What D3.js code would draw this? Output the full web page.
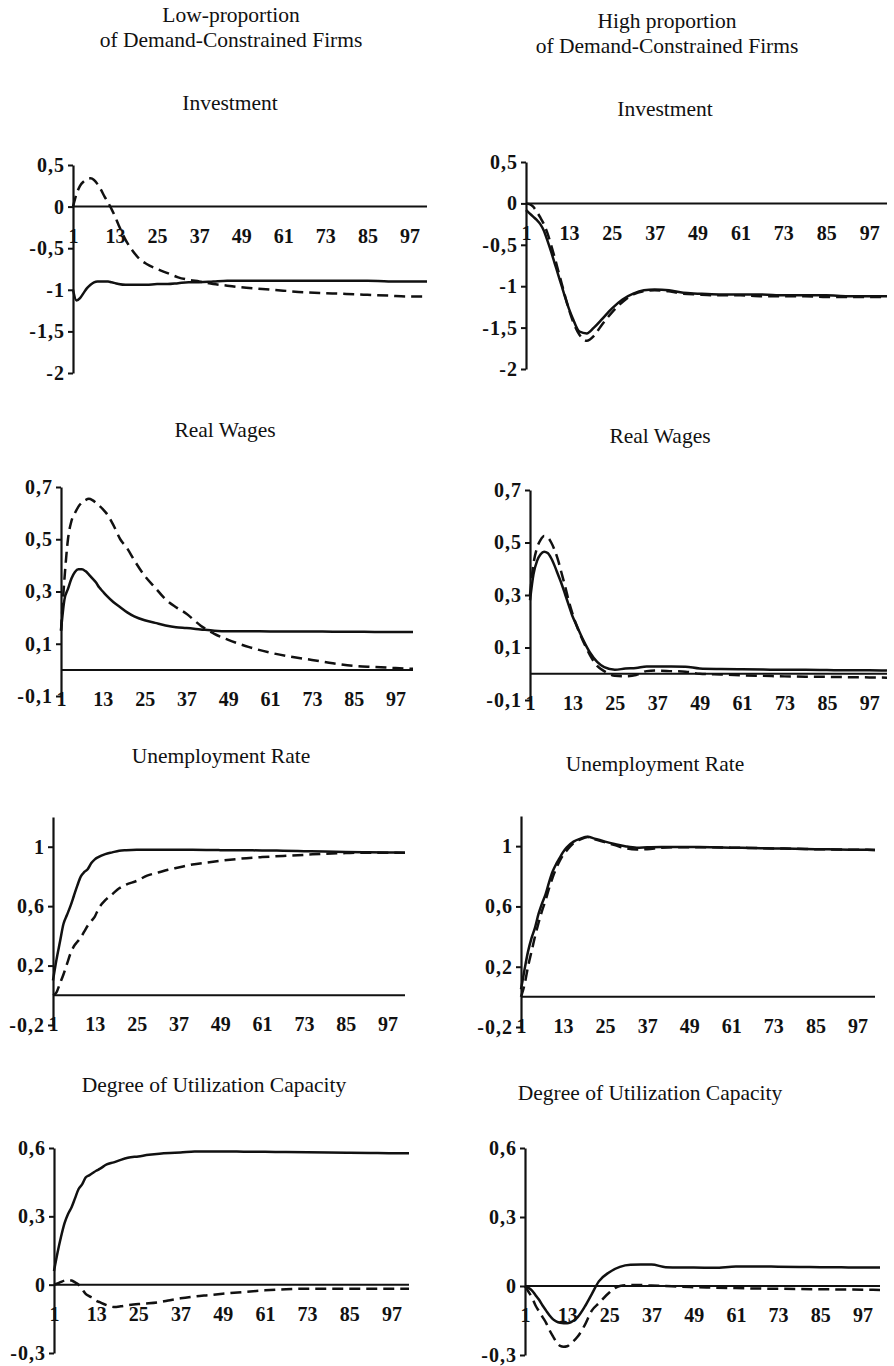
<!DOCTYPE html>
<html>
<head>
<meta charset="utf-8">
<script src="https://cdn.jsdelivr.net/npm/d3@7"></script>
<style>
  body { margin: 0; background: #fff; }
  svg { display: block; }
  .tick text { font-family: "Liberation Serif", serif; font-weight: bold; font-size: 20px; fill: #111; }
  .yaxis .tick text { letter-spacing: 1px; }
  .title { font-family: "Liberation Serif", serif; font-size: 21.5px; fill: #111; }
</style>
</head>
<body>
<div id="chart"></div>
<script>
const periods = [1,2,3,4,5,6,7,8,9,10,11,12,13,14,16,18,20,22,25,28,31,34,37,41,45,49,55,61,67,73,79,85,91,97,102];
const xTicks = [1, 13, 25, 37, 49, 61, 73, 85, 97];

const columnTitles = [
  ["Low-proportion", "of Demand-Constrained Firms"],
  ["High proportion", "of Demand-Constrained Firms"]
];
const variables = ["Investment", "Real Wages", "Unemployment Rate", "Degree of Utilization Capacity"];

const yTicksInvestment = [0.5, 0, -0.5, -1, -1.5, -2];
const yTicksWages = [0.7, 0.5, 0.3, 0.1, -0.1];
const yTicksUnemployment = [1, 0.6, 0.2, -0.2];
const yTicksUtilization = [0.6, 0.3, 0, -0.3];

// low proportion (left column)
const invLowSolid = [-1.0,-1.13,-1.1,-1.04,-0.98,-0.94,-0.91,-0.9,-0.9,-0.9,-0.9,-0.91,-0.92,-0.93,-0.94,-0.94,-0.94,-0.94,-0.93,-0.93,-0.92,-0.91,-0.91,-0.9,-0.89,-0.89,-0.89,-0.89,-0.89,-0.89,-0.89,-0.89,-0.9,-0.9,-0.9];
const invLowDashed = [0,0.15,0.25,0.3,0.33,0.34,0.32,0.27,0.2,0.12,0.05,-0.03,-0.12,-0.22,-0.4,-0.53,-0.63,-0.69,-0.75,-0.8,-0.85,-0.88,-0.9,-0.93,-0.95,-0.97,-0.99,-1.01,-1.03,-1.04,-1.05,-1.06,-1.07,-1.08,-1.08];
const wageLowSolid = [0.15,0.27,0.31,0.35,0.375,0.385,0.385,0.378,0.365,0.35,0.335,0.315,0.3,0.285,0.26,0.24,0.22,0.205,0.19,0.18,0.17,0.163,0.16,0.155,0.15,0.148,0.148,0.147,0.147,0.147,0.146,0.146,0.145,0.145,0.145];
const wageLowDashed = [0.15,0.35,0.5,0.57,0.6,0.625,0.64,0.65,0.655,0.65,0.64,0.628,0.615,0.6,0.555,0.5,0.465,0.42,0.36,0.315,0.27,0.24,0.215,0.17,0.138,0.115,0.087,0.066,0.05,0.038,0.025,0.015,0.011,0.007,0.004];
const unempLowSolid = [0.1,0.24,0.36,0.48,0.54,0.6,0.67,0.74,0.8,0.83,0.85,0.89,0.915,0.93,0.95,0.962,0.973,0.977,0.98,0.98,0.98,0.98,0.98,0.979,0.978,0.977,0.976,0.975,0.973,0.97,0.968,0.965,0.963,0.961,0.96];
const unempLowDashed = [0,0.02,0.08,0.14,0.21,0.28,0.33,0.36,0.39,0.43,0.47,0.5,0.53,0.58,0.64,0.68,0.72,0.745,0.77,0.805,0.825,0.845,0.86,0.88,0.893,0.905,0.92,0.93,0.938,0.945,0.953,0.957,0.96,0.96,0.96];
const utilLowSolid = [0.06,0.14,0.21,0.27,0.31,0.34,0.38,0.42,0.44,0.47,0.48,0.49,0.5,0.508,0.528,0.537,0.548,0.557,0.563,0.57,0.575,0.578,0.58,0.585,0.585,0.585,0.584,0.583,0.582,0.581,0.58,0.579,0.578,0.577,0.577];
const utilLowDashed = [0,0.005,0.012,0.018,0.02,0.018,0.01,0,-0.02,-0.04,-0.05,-0.058,-0.07,-0.077,-0.09,-0.098,-0.095,-0.09,-0.085,-0.082,-0.077,-0.068,-0.06,-0.052,-0.046,-0.04,-0.032,-0.025,-0.02,-0.018,-0.018,-0.018,-0.018,-0.018,-0.018];

// high proportion (right column)
const invHighSolid = [-0.08,-0.12,-0.16,-0.2,-0.25,-0.33,-0.45,-0.58,-0.72,-0.86,-1.0,-1.14,-1.27,-1.38,-1.55,-1.57,-1.5,-1.41,-1.27,-1.16,-1.09,-1.05,-1.04,-1.05,-1.08,-1.09,-1.1,-1.1,-1.1,-1.11,-1.11,-1.11,-1.12,-1.12,-1.12];
const invHighDashed = [0,-0.01,-0.04,-0.1,-0.17,-0.25,-0.36,-0.5,-0.65,-0.81,-0.97,-1.13,-1.28,-1.41,-1.59,-1.66,-1.6,-1.48,-1.32,-1.19,-1.1,-1.06,-1.05,-1.06,-1.09,-1.1,-1.11,-1.11,-1.12,-1.12,-1.12,-1.13,-1.13,-1.13,-1.13];
const wageHighSolid = [0.28,0.38,0.43,0.455,0.465,0.46,0.44,0.41,0.375,0.34,0.3,0.26,0.22,0.19,0.13,0.08,0.045,0.025,0.015,0.02,0.022,0.028,0.028,0.028,0.027,0.02,0.018,0.017,0.016,0.015,0.015,0.014,0.013,0.013,0.012];
const wageHighDashed = [0.3,0.42,0.48,0.51,0.525,0.52,0.5,0.47,0.43,0.38,0.33,0.275,0.23,0.19,0.125,0.07,0.03,0.01,-0.008,-0.01,-0.005,0.01,0.012,0.01,0.008,0,-0.003,-0.006,-0.008,-0.01,-0.011,-0.012,-0.013,-0.014,-0.015];
const unempHighSolid = [0.05,0.18,0.3,0.39,0.46,0.55,0.62,0.68,0.76,0.83,0.88,0.92,0.96,0.99,1.03,1.05,1.062,1.05,1.03,1.013,0.998,0.99,0.993,0.995,0.995,0.994,0.993,0.99,0.988,0.985,0.983,0.98,0.978,0.976,0.975];
const unempHighDashed = [0,0.08,0.2,0.3,0.4,0.49,0.57,0.64,0.72,0.79,0.85,0.9,0.94,0.97,1.02,1.045,1.06,1.045,1.025,1.005,0.985,0.978,0.98,0.99,0.993,0.993,0.992,0.99,0.988,0.985,0.983,0.98,0.978,0.976,0.975];
const utilHighSolid = [0,-0.008,-0.02,-0.04,-0.06,-0.085,-0.107,-0.128,-0.145,-0.155,-0.16,-0.162,-0.162,-0.158,-0.135,-0.09,-0.035,0.02,0.06,0.083,0.092,0.093,0.093,0.082,0.08,0.08,0.079,0.085,0.085,0.084,0.083,0.082,0.081,0.08,0.08];
const utilHighDashed = [0,-0.025,-0.05,-0.085,-0.11,-0.135,-0.16,-0.193,-0.22,-0.245,-0.26,-0.264,-0.262,-0.25,-0.22,-0.17,-0.107,-0.075,-0.028,0,0.004,0.004,0.002,0,-0.003,-0.005,-0.007,-0.009,-0.011,-0.012,-0.013,-0.014,-0.015,-0.016,-0.017];

// page layout of each panel (pixels)
const panels = [
  { title: variables[0], tx: 230, ty: 110, x0: 73,  x1: 427, yTop: 165,  yBot: 373,  dom: [-2, 0.5],    ticks: yTicksInvestment,   solid: invLowSolid,    dashed: invLowDashed },
  { title: variables[0], tx: 665, ty: 116, x0: 526, x1: 887, yTop: 162,  yBot: 369,  dom: [-2, 0.5],    ticks: yTicksInvestment,   solid: invHighSolid,   dashed: invHighDashed },
  { title: variables[1], tx: 225, ty: 437, x0: 61,  x1: 413, yTop: 487,  yBot: 696,  dom: [-0.1, 0.7],  ticks: yTicksWages,        solid: wageLowSolid,   dashed: wageLowDashed },
  { title: variables[1], tx: 660, ty: 443, x0: 530, x1: 887, yTop: 490,  yBot: 700,  dom: [-0.1, 0.7],  ticks: yTicksWages,        solid: wageHighSolid,  dashed: wageHighDashed },
  { title: variables[2], tx: 221, ty: 763, x0: 53,  x1: 405, yTop: 817,  yBot: 1025, dom: [-0.2, 1.2],  ticks: yTicksUnemployment, solid: unempLowSolid,  dashed: unempLowDashed },
  { title: variables[2], tx: 655, ty: 771, x0: 521, x1: 875, yTop: 816,  yBot: 1027, dom: [-0.2, 1.2],  ticks: yTicksUnemployment, solid: unempHighSolid, dashed: unempHighDashed },
  { title: variables[3], tx: 214, ty: 1092, x0: 54, x1: 409, yTop: 1148, yBot: 1353, dom: [-0.3, 0.6],  ticks: yTicksUtilization,  solid: utilLowSolid,   dashed: utilLowDashed },
  { title: variables[3], tx: 650, ty: 1100, x0: 525, x1: 880, yTop: 1148, yBot: 1355, dom: [-0.3, 0.6], ticks: yTicksUtilization,  solid: utilHighSolid,  dashed: utilHighDashed }
];

const headerPos = [
  { x: 231, y: [22, 47] },
  { x: 667, y: [28, 53] }
];

const svg = d3.select("#chart").append("svg")
  .attr("width", 894)
  .attr("height", 1366);

const fmt = d => String(d).replace(".", ",");

columnTitles.forEach((lines, i) => {
  lines.forEach((t, j) => {
    svg.append("text")
      .attr("class", "title")
      .attr("x", headerPos[i].x)
      .attr("y", headerPos[i].y[j])
      .attr("text-anchor", "middle")
      .text(t);
  });
});

panels.forEach(p => {
  const x = d3.scaleLinear().domain([1, 102]).range([p.x0, p.x1]);
  const y = d3.scaleLinear().domain(p.dom).range([p.yBot, p.yTop]);
  const g = svg.append("g");

  g.append("text")
    .attr("class", "title")
    .attr("x", p.tx)
    .attr("y", p.ty)
    .attr("text-anchor", "middle")
    .text(p.title);

  // horizontal axis through zero
  g.append("line")
    .attr("x1", p.x0).attr("x2", p.x1)
    .attr("y1", y(0)).attr("y2", y(0))
    .attr("stroke", "#111")
    .attr("stroke-width", 2);

  // period labels sit a fixed distance under the zero line
  g.append("g")
    .attr("transform", `translate(0,${y(0) + 22})`)
    .call(d3.axisBottom(x).tickValues(xTicks).tickSize(0).tickPadding(0).tickFormat(d3.format("d")))
    .call(a => a.select(".domain").remove());

  g.append("g")
    .attr("class", "yaxis")
    .attr("transform", `translate(${p.x0},0)`)
    .call(d3.axisLeft(y).tickValues(p.ticks).tickFormat(fmt).tickSize(5).tickSizeOuter(0).tickPadding(3))
    .call(a => a.select(".domain").attr("stroke", "#111").attr("stroke-width", 2.2))
    .call(a => a.selectAll(".tick line").attr("stroke", "#111").attr("stroke-width", 2));

  const line = d3.line()
    .x((d, i) => x(periods[i]))
    .y(d => y(d))
    .curve(d3.curveMonotoneX);

  g.append("path")
    .datum(p.solid)
    .attr("d", line)
    .attr("fill", "none")
    .attr("stroke", "#111")
    .attr("stroke-width", 2.5);

  g.append("path")
    .datum(p.dashed)
    .attr("d", line)
    .attr("fill", "none")
    .attr("stroke", "#111")
    .attr("stroke-width", 2.5)
    .attr("stroke-dasharray", "11,6");
});
</script>
</body>
</html>
